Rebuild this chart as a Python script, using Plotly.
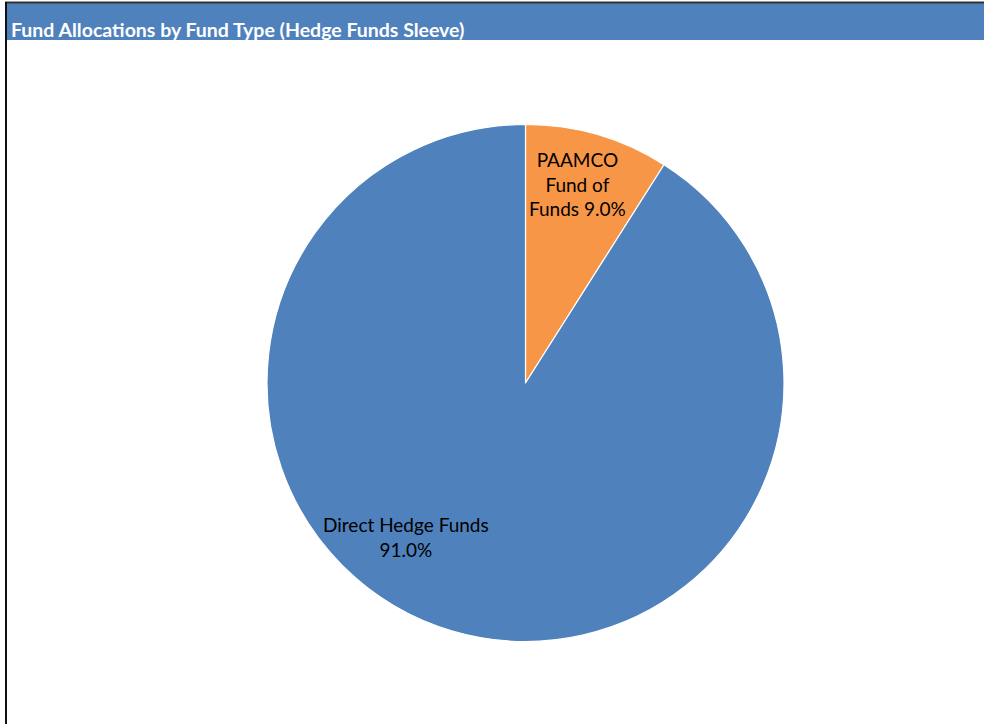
import math
import plotly.graph_objects as go

# Fund allocation data (Hedge Funds sleeve)
fund_types = ["PAAMCO Fund of Funds", "Direct Hedge Funds"]
allocations = [9.0, 91.0]
label_lines = [["PAAMCO", "Fund of", "Funds"], ["Direct Hedge Funds"]]
slice_colors = ["#F79646", "#4F81BD"]

W, H = 984, 724
CX, CY, R = 525.5, 383.0, 258.5  # pie centre and radius in pixels

fig = go.Figure()

fig.add_trace(go.Pie(
    labels=fund_types,
    values=allocations,
    sort=False,
    direction="clockwise",
    rotation=0,
    marker=dict(colors=slice_colors, line=dict(color="white", width=1.2)),
    textinfo="none",
    hoverinfo="label+percent",
    showlegend=False,
    domain=dict(x=[(CX - R) / W, (CX + R) / W],
                y=[1 - (CY + R) / H, 1 - (CY - R) / H]),
))

# Label placement: (angle offset within slice as fraction, radial fraction)
label_place = [(0.448, 0.795), (0.566, 0.754)]
total = sum(allocations)
start = 0.0
annotations = []
for name_lines, val, (frac, rf) in zip(label_lines, allocations, label_place):
    ang = (start + val * frac) / total * 2 * math.pi
    start += val
    px = CX + rf * R * math.sin(ang)
    py = CY - rf * R * math.cos(ang)
    pct = f"{val / total * 100:.1f}%"
    if len(name_lines) > 1:
        text = "<br>".join(name_lines[:-1] + [name_lines[-1] + " " + pct])
    else:
        text = name_lines[0] + "<br>" + pct
    annotations.append(dict(
        x=px / W, y=1 - py / H, xref="paper", yref="paper",
        xanchor="center", yanchor="middle",
        text=text, showarrow=False, align="center",
        font=dict(family="Lato, Carlito, Calibri, sans-serif", size=19, color="black"),
    ))

# Title inside the header bar
annotations.append(dict(
    x=9 / W, y=1 - 29.5 / H, xref="paper", yref="paper",
    xanchor="left", yanchor="middle",
    text="<b>Fund Allocations by Fund Type (Hedge Funds Sleeve)</b>",
    showarrow=False,
    font=dict(family="Lato, Carlito, Calibri, sans-serif", size=19.5, color="white"),
))

shapes = [
    # header bar
    dict(type="rect", xref="paper", yref="paper",
         x0=7 / W, x1=1, y0=1 - 40 / H, y1=1 - 3 / H,
         fillcolor="#4F81BD", line=dict(width=0), layer="below"),
    # frame: top and left edges
    dict(type="line", xref="paper", yref="paper",
         x0=5 / W, x1=1, y0=1 - 2.5 / H, y1=1 - 2.5 / H,
         line=dict(color="#333333", width=2)),
    dict(type="line", xref="paper", yref="paper",
         x0=6 / W, x1=6 / W, y0=0, y1=1 - 2 / H,
         line=dict(color="#111111", width=2)),
]

fig.update_layout(
    width=W, height=H,
    margin=dict(l=0, r=0, t=0, b=0),
    paper_bgcolor="white",
    plot_bgcolor="white",
    annotations=annotations,
    shapes=shapes,
)

fig.write_html("out.html")
